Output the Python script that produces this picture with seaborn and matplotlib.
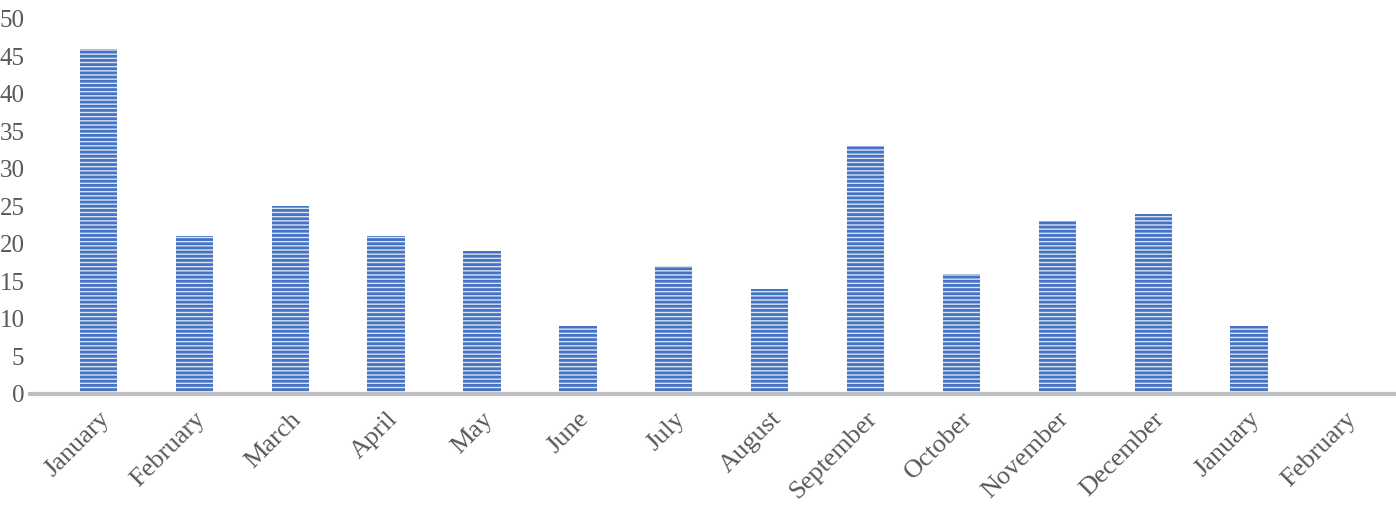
import matplotlib
matplotlib.use("Agg")
import matplotlib.pyplot as plt
import seaborn as sns
import pandas as pd

months = ["January", "February", "March", "April", "May", "June", "July",
          "August", "September", "October", "November", "December",
          "January", "February"]
counts = [46, 21, 25, 21, 19, 9, 17, 14, 33, 16, 23, 24, 9, 0]

df = pd.DataFrame({"pos": [str(i) for i in range(len(months))], "count": counts})

sns.set_style("white")
plt.rcParams["font.family"] = ["Liberation Serif", "DejaVu Serif"]
plt.rcParams["hatch.linewidth"] = 2.0

fig = plt.figure(figsize=(13.96, 5.12), dpi=100)
ax = fig.add_axes([0.0215, 0.2305, 0.977, 0.7325])

sns.barplot(data=df, x="pos", y="count", ax=ax, width=0.39,
            color="#DAE3F3", edgecolor="#4472C4", linewidth=0, hatch="----",
            saturation=1)

ax.set_ylim(0, 50)
ax.set_yticks(range(0, 51, 5))
ax.set_xlim(-0.714, len(months) - 0.49)
ax.set_xticks(range(len(months)))
ax.set_xticklabels(months, rotation=45, ha="right", rotation_mode="anchor")
ax.tick_params(axis="both", colors="#595959", length=0)
ax.tick_params(axis="y", labelsize=18, pad=4)
ax.tick_params(axis="x", labelsize=19, pad=10)
ax.set_xlabel("")
ax.set_ylabel("")

for side in ["top", "right", "left"]:
    ax.spines[side].set_visible(False)
ax.spines["bottom"].set_color("#BFBFBF")
ax.spines["bottom"].set_linewidth(3)

fig.savefig("out.png", dpi=100)
